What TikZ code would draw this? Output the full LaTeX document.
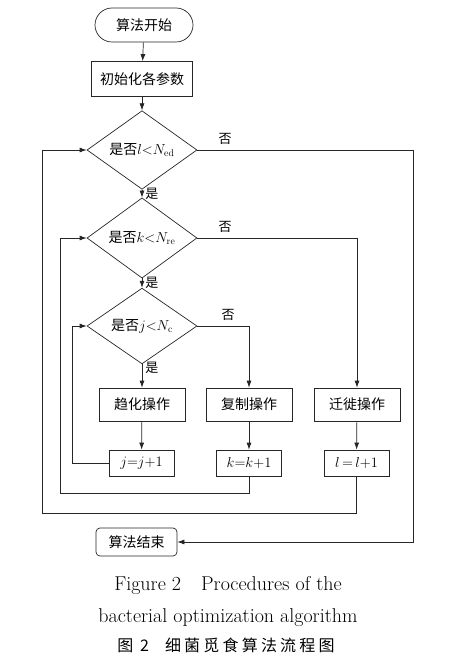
\documentclass[tikz,border=0pt]{standalone}
\usepackage{fontspec}
\usepackage{amsmath}
\newfontfamily\cjk{Noto Sans CJK SC}
\newfontfamily\cjkcap{Noto Sans CJK SC}[LetterSpace=20]
\usetikzlibrary{shapes.geometric,arrows.meta}

\begin{document}
\begin{tikzpicture}[x=1pt,y=-1pt,line width=0.7pt,draw=black!85,
  box/.style={draw,minimum width=86pt,minimum height=33pt,inner sep=0pt,
    font=\cjk\fontsize{14}{14}\selectfont},
  cnt/.style={draw,minimum width=65pt,minimum height=26pt,inner sep=0pt,
    font=\fontsize{14}{14}\selectfont},
  test/.style={draw,diamond,minimum width=110pt,minimum height=66pt,inner sep=0pt,
    font=\fontsize{14}{14}\selectfont},
  lab/.style={font=\cjk\fontsize{13}{13}\selectfont,inner sep=0pt},
  arr/.style={-{Latex[length=7pt,width=5pt]}}]
\useasboundingbox (0,0) rectangle (456,663);
% start and initialisation
\node[box,rounded corners=17pt,minimum width=98pt,minimum height=34pt] (start) at (144,25) {算法开始};
\node[box,minimum width=101pt,minimum height=35pt] (init) at (142,79) {初始化各参数};
% the three loop tests
\node[test] (d1) at (142,150) {{\cjk 是否}$l{<}N_{\text{ed}}$};
\node[test] (d2) at (142,238) {{\cjk 是否}$k{<}N_{\text{re}}$};
\node[test] (d3) at (142,326) {{\cjk 是否}$j{<}N_{\text{c}}$};
% operations and counters
\node[box] (chem)  at (142,404.5) {趋化操作};
\node[box] (repro) at (249,404.5) {复制操作};
\node[box] (migr)  at (357,404.5) {迁徙操作};
\node[cnt] (jinc) at (141.5,463) {$j{=}j{+}1$};
\node[cnt] (kinc) at (249,463)   {$k{=}k{+}1$};
\node[cnt] (linc) at (356.5,463) {$l\,{=}\,l{+}1$};
\node[box,rounded corners=4pt,minimum width=81pt,minimum height=28pt] (stop) at (136.5,542) {算法结束};
% corners of the return lines
\coordinate (far)   at (413,150);
\coordinate (back2) at (60,493);
\coordinate (back1) at (42,513);
% main flow
\draw[arr] (start) -- (init);
\draw[arr] (init) -- (d1);
\draw[arr] (d1) -- (d2);
\draw[arr] (d2) -- (d3);
\draw[arr] (d3) -- (chem);
\foreach \a/\b in {chem/jinc, repro/kinc, migr/linc}
  \draw[arr] (\a) -- (\b);
% the "no" branches
\draw[arr] (d1.east) -- (far) |- (stop.east);
\draw[arr] (d2.east) -| (migr.north);
\draw[arr] (d3.east) -| (repro.north);
% back to the tests
\draw[arr] (jinc.west) -- ++(-36,0) |- (d3.west);
\draw[arr] (kinc.south) |- (back2) |- (d2.west);
\draw[arr] (linc.south) |- (back1) |- (d1.west);
% yes / no labels
\foreach \d/\x in {1/225, 2/225, 3/228} {
  \node[lab] (no\d) at ([yshift=11pt]d\d.east -| \x,0) {否};
  \node[lab,anchor=west] (yes\d) at ([xshift=3pt,yshift=-4pt]d\d.south) {是};
}
% caption
\node[font=\fontsize{20}{20}\selectfont] (cap1) at (228,586) {Figure 2\quad Procedures of the};
\node[font=\fontsize{20}{20}\selectfont] (cap2) at (228,618) {bacterial optimization algorithm};
\node[font=\cjkcap\fontsize{16}{16}\selectfont] (cap3) at (226,645) {图 2\quad 细菌觅食算法流程图};
\end{tikzpicture}
\end{document}
